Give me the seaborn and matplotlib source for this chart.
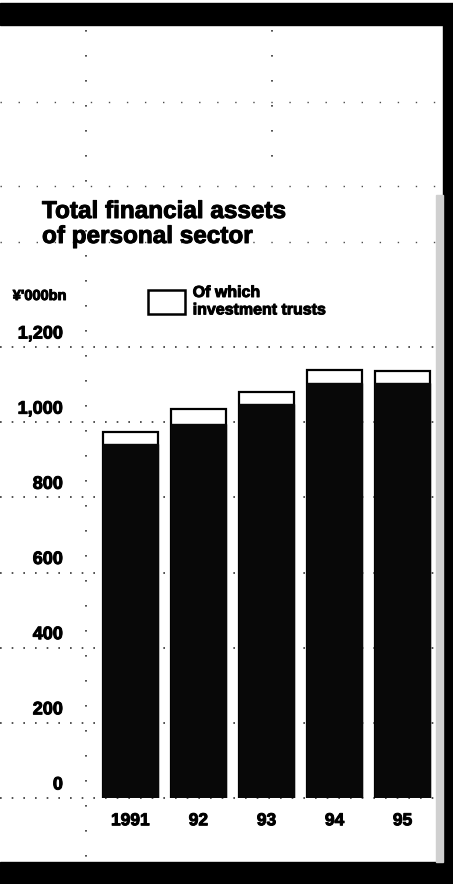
import matplotlib
matplotlib.use("Agg")
import matplotlib.pyplot as plt
import matplotlib.patheffects as pe
import seaborn as sns
from matplotlib.patches import Patch, Rectangle
from matplotlib.lines import Line2D

years = ['1991', '92', '93', '94', '95']
total_assets = [975, 1036, 1081, 1139, 1137]
investment_trusts = [32, 42, 32, 35, 34]
y_ticks = [0, 200, 400, 600, 800, 1000, 1200]
y_tick_labels = ['0', '200', '400', '600', '800', '1,000', '1,200']

sns.set_style('white')
plt.rcParams['font.family'] = ['Liberation Sans', 'DejaVu Sans']
plt.rcParams['font.weight'] = 'bold'
plt.rcParams['text.color'] = 'black'
plt.rcParams['xtick.color'] = 'black'
plt.rcParams['ytick.color'] = 'black'

# newsprint ink spread: thicken all text a little
ink = [pe.withStroke(linewidth=0.7, foreground='black')]

W, H = 453, 884
fig = plt.figure(figsize=(W / 100, H / 100), dpi=100)
ax = fig.add_axes([95 / W, 1 - 798 / H, 345 / W, (798 - 347) / H])

# total bar in white (investment trusts on top), rest painted black over it
other_assets = [t - i for t, i in zip(total_assets, investment_trusts)]
sns.barplot(x=years, y=total_assets, color='white', edgecolor='black',
            linewidth=1.6, width=0.81, saturation=1, ax=ax, zorder=2)
sns.barplot(x=years, y=other_assets, color='#080808', edgecolor='#080808',
            linewidth=1.0, width=0.81, saturation=1, ax=ax, zorder=3)

ax.set_xlim(-0.52, 4.55)
ax.set_ylim(0, 1200)
sns.despine(ax=ax, left=True, bottom=True)
ax.set_yticks(y_ticks, [])
ax.tick_params(axis='y', length=0)
ax.tick_params(axis='x', length=0, pad=11, labelsize=12.5)
for lab in ax.get_xticklabels():
    lab.set_path_effects(ink)
ax.set_xlabel('')
ax.set_ylabel('')

# dotted gridlines running under the labels, labels sit above the lines
ax.hlines(y_ticks, -95 / 345, 1.0, transform=ax.get_yaxis_transform(),
          clip_on=False, colors='black', linestyles=(0, (1, 6)),
          linewidth=1.2, alpha=0.8, zorder=1)
for v, lab in zip(y_ticks, y_tick_labels):
    ax.annotate(lab, xy=(0, v), xycoords=ax.get_yaxis_transform(),
                xytext=(-32 * 0.72, 13 * 0.72), textcoords='offset points',
                ha='right', va='center', fontsize=13, fontweight='bold',
                path_effects=ink)

leg = ax.legend(handles=[Patch(facecolor='white', edgecolor='black',
                               linewidth=1.8,
                               label='Of which\ninvestment trusts')],
                loc='upper left', bbox_to_anchor=(148 / W, 1 - 285 / H),
                bbox_transform=fig.transFigure, frameon=False,
                prop={'size': 11.5, 'weight': 'bold'}, handlelength=2.3,
                handleheight=1.95, handletextpad=0.5, borderpad=0,
                borderaxespad=0)
for t in leg.get_texts():
    t.set_path_effects(ink)

fig.text(42 / W, 1 - 218 / H, 'Total financial assets', fontsize=17.5,
         fontweight='bold', va='baseline', path_effects=ink)
fig.text(42 / W, 1 - 243 / H, 'of personal sector', fontsize=17.5,
         fontweight='bold', va='baseline', path_effects=ink)
fig.text(67 / W, 1 - 296 / H, "¥'000bn", ha='right', va='center',
         fontsize=10.5, fontweight='bold', path_effects=ink)

# scanned page frame
fig.add_artist(Rectangle((0, 1 - 25 / H), 1, 22 / H, transform=fig.transFigure,
                         color='black'))
fig.add_artist(Rectangle((443 / W, 0), 10 / W, 1 - 25 / H,
                         transform=fig.transFigure, color='black'))
fig.add_artist(Rectangle((0, 0), 1, 22 / H, transform=fig.transFigure,
                         color='black'))
fig.add_artist(Rectangle((436 / W, 22 / H), 7 / W, (862 - 195) / H,
                         transform=fig.transFigure, color='#d0d0d0'))

# faint dotted show-through from the other side of the page
for yy in [102, 186, 242]:
    fig.add_artist(Line2D([0, 440 / W], [1 - yy / H] * 2,
                          transform=fig.transFigure, color='black',
                          linestyle=(0, (1, 12)), lw=1, alpha=0.7))
fig.add_artist(Line2D([86 / W] * 2, [1 - 30 / H, 22 / H],
                      transform=fig.transFigure, color='black',
                      linestyle=(0, (1, 14)), lw=1.2, alpha=0.8))
fig.add_artist(Line2D([272 / W] * 2, [1 - 30 / H, 1 - 180 / H],
                      transform=fig.transFigure, color='black',
                      linestyle=(0, (1, 14)), lw=1.2, alpha=0.8))

fig.savefig('out.png', dpi=100)
